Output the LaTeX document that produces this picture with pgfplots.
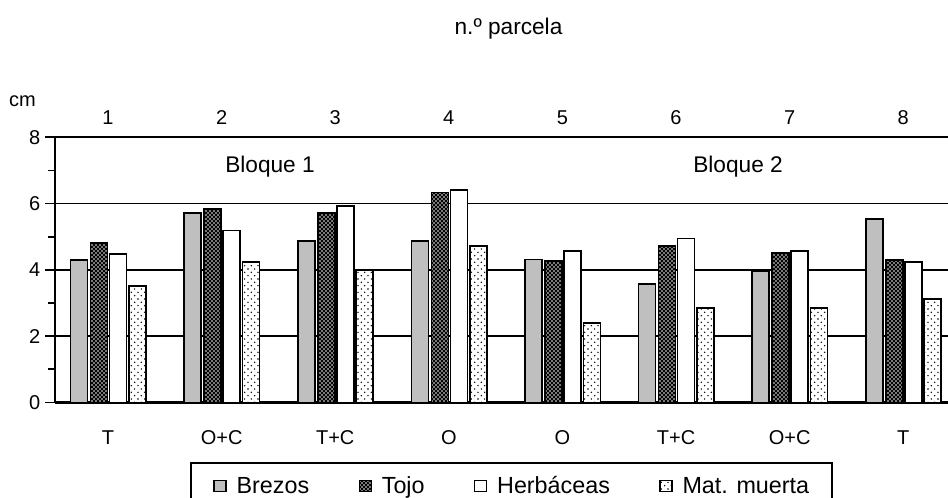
\documentclass[border=0pt]{standalone}
\usepackage{pgfplots}
\pgfplotsset{compat=1.18}
\usepackage{pgfplotstable}
\usepackage{fontspec}
\setmainfont{Liberation Sans}
\usetikzlibrary{patterns}

% sparse dots for Mat. muerta
\pgfdeclarepatternformonly{sparsedots}{\pgfqpoint{-1pt}{-1pt}}{\pgfqpoint{6pt}{6pt}}{\pgfqpoint{5pt}{5pt}}{%
  \pgfpathcircle{\pgfqpoint{1pt}{1pt}}{0.6pt}%
  \pgfpathcircle{\pgfqpoint{3.5pt}{3.5pt}}{0.6pt}%
  \pgfusepath{fill}}
% coarse weave for Tojo
\pgfdeclarepatternformonly{tojoweave}{\pgfqpoint{-1pt}{-1pt}}{\pgfqpoint{4pt}{4pt}}{\pgfqpoint{3pt}{3pt}}{%
  \pgfpathcircle{\pgfqpoint{0pt}{0pt}}{0.8pt}%
  \pgfpathcircle{\pgfqpoint{1.5pt}{1.5pt}}{0.8pt}%
  \pgfusepath{fill}}

\definecolor{brezos}{HTML}{BFBFBF}

\pgfplotstableread{
x brezos tojo herb mat
0 4.30 4.81 4.48 3.51
1 5.72 5.84 5.19 4.24
2 4.88 5.71 5.93 3.98
3 4.88 6.34 6.41 4.72
4 4.32 4.26 4.57 2.39
5 3.57 4.72 4.95 2.86
6 3.97 4.51 4.57 2.85
7 5.54 4.30 4.24 3.12
}\datatable

\pgfplotsset{
  legsq/.style={legend image code/.code={\draw[##1, line width=0.9pt] (0pt,-4pt) rectangle (9pt,4pt);}},
  barbase/.style={ybar, bar width=12.75pt, draw=black, line width=1.2pt},
}

\begin{document}
\begin{tikzpicture}[x=0.75pt,y=0.75pt]
\path[use as bounding box] (0,0) rectangle (948,497);
\begin{axis}[
  at={(41.25pt,70.875pt)}, anchor=south west,
  scale only axis, width=670.5pt, height=198.9pt,
  xmin=-0.4665, xmax=7.403, ymin=0, ymax=8,
  axis lines=left, axis line style={-},
  x axis line style={line width=2.2pt},
  y axis line style={line width=1.3pt},
  xtick={0,...,7}, xticklabels={T,O+C,T+C,O,O,T+C,O+C,T},
  xtick style={draw=none},
  xticklabel style={anchor=center, yshift=-19.2pt},
  ytick={0,2,4,6,8}, minor ytick={1,3,5,7},
  tick align=outside, major tick length=7.5pt, minor tick length=5.25pt,
  ytick style={black, line width=1.3pt},
  minor tick style={black, line width=1.3pt},
  ymajorgrids, grid style={black, line width=1.3pt},
  tick label style={font=\fontsize{15}{18}\selectfont},
  /pgf/number format/assume math mode=true,
  legend columns=4,
  legend style={at={(0.151,-0.2244)}, anchor=north west, draw=black, line width=1.2pt,
    font=\fontsize{17.5}{21}\selectfont, inner xsep=17pt, inner ysep=10pt,
    nodes={inner sep=0pt},
    /tikz/every odd column/.append style={column sep=7.5pt},
    /tikz/every even column/.append style={column sep=37pt, text height=13pt, text depth=3.5pt}},
  legend cell align=left,
  clip=false,
]
\addplot[barbase, bar shift=-21.75pt, fill=brezos, legsq] table[x=x,y=brezos]{\datatable};
\addplot[barbase, bar shift=-6.75pt, fill=black, postaction={pattern=tojoweave, pattern color=gray!70}, legsq] table[x=x,y=tojo]{\datatable};
\addplot[barbase, bar shift=7.5pt, fill=white, legsq] table[x=x,y=herb]{\datatable};
\addplot[barbase, bar shift=22.1pt, fill=white, postaction={pattern=sparsedots}, legsq] table[x=x,y=mat]{\datatable};
\addlegendentry{Brezos}
\addlegendentry{Tojo}
\addlegendentry{Herbáceas}
\addlegendentry{Mat. muerta}

\node[font=\fontsize{17}{20}\selectfont, anchor=base] at (axis cs:1.426,6.93) {Bloque 1};
\node[font=\fontsize{17}{20}\selectfont, anchor=base] at (axis cs:5.546,6.93) {Bloque 2};
\end{axis}

\foreach \i in {1,...,8} {
  \node[font=\fontsize{15}{18}\selectfont] at ({108+113.6*(\i-1)}, 379.5) {\i};
}
\node[font=\fontsize{15}{18}\selectfont] at (22.5,396) {cm};
\node[font=\fontsize{17}{20}\selectfont, anchor=base] at (508.5,462.7) {n.º parcela};
\end{tikzpicture}
\end{document}
